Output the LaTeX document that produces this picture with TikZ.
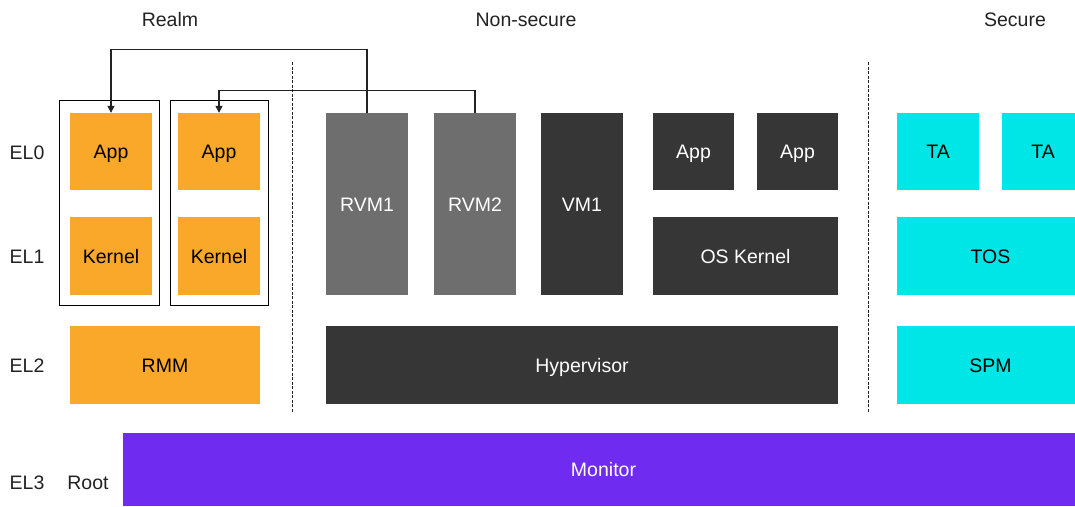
\documentclass[tikz,border=0pt]{standalone}
\usepackage{fontspec}
\setmainfont{Liberation Sans}
\usepackage{xcolor}
\usetikzlibrary{arrows.meta}
\definecolor{realmorange}{HTML}{F9A82A}
\definecolor{rvmgray}{HTML}{6E6E6E}
\definecolor{nsdark}{HTML}{363636}
\definecolor{seccyan}{HTML}{00E5E5}
\definecolor{rootpurple}{HTML}{6F2CF0}
\definecolor{labelgray}{HTML}{222222}
\tikzset{
  layerbox/.style={draw=none, align=center, inner sep=0pt, text height=14pt, text depth=0pt, font=\fontsize{19.5}{22}\selectfont},
  realmbox/.style={layerbox, fill=realmorange, text=black, minimum width=82pt},
  rvmbox/.style={layerbox, fill=rvmgray, text=white, minimum width=82pt, minimum height=182pt},
  nsbox/.style={layerbox, fill=nsdark, text=white},
  secbox/.style={layerbox, fill=seccyan, text=black},
  rootbox/.style={layerbox, fill=rootpurple, text=white},
  realmframe/.style={draw=black, line width=1pt, inner sep=0pt},
  worldsep/.style={draw=labelgray, dashed, dash pattern=on 3pt off 1.5pt, line width=1pt},
  callarrow/.style={-{Triangle[length=7pt,width=7pt]}, draw=labelgray, line width=1.2pt},
  ellabel/.style={text=labelgray, inner sep=0pt, text height=14pt, text depth=0pt, font=\fontsize{19.5}{22}\selectfont}
}
\begin{document}
\begin{tikzpicture}[x=1pt, y=-1pt]
\useasboundingbox (0,0) rectangle (1075,506);
% world titles
\node[ellabel] (realm) at (170,19) {Realm};
\node[ellabel] (nonsecure) at (526,19) {Non-secure};
\node[ellabel] (secure) at (1015,19) {Secure};
% exception levels
\node[ellabel] (el0) at (27,152) {EL0};
\node[ellabel] (el1) at (27,256) {EL1};
\node[ellabel] (el2) at (27,365) {EL2};
\node[ellabel] (el3) at (27,482) {EL3};
\node[ellabel] (root) at (88,482) {Root};
% separators
\coordinate (septop1) at (292,62);
\coordinate (sepbot1) at (292,412);
\coordinate (septop2) at (868,62);
\coordinate (sepbot2) at (868,412);
\draw[worldsep] (septop1) -- (sepbot1);
\draw[worldsep] (septop2) -- (sepbot2);
% realm
\node[realmframe, minimum width=100pt, minimum height=205pt] (realmvm1) at (109,202.5) {};
\node[realmframe, minimum width=98pt, minimum height=205pt] (realmvm2) at (219,202.5) {};
\node[realmbox, minimum height=77pt] (rapp1) at (111,151.5) {App};
\node[realmbox, minimum height=77pt] (rapp2) at (219,151.5) {App};
\node[realmbox, minimum height=78pt] (rkern1) at (111,256) {Kernel};
\node[realmbox, minimum height=78pt] (rkern2) at (219,256) {Kernel};
\node[realmbox, minimum width=190pt, minimum height=78pt] (rmm) at (165,365) {RMM};
% non-secure
\node[rvmbox] (rvm1) at (367,204) {RVM1};
\node[rvmbox] (rvm2) at (475,204) {RVM2};
\node[nsbox, minimum width=82pt, minimum height=182pt] (vm1) at (582,204) {VM1};
\node[nsbox, minimum width=81pt, minimum height=77pt] (nsapp1) at (693.5,151.5) {App};
\node[nsbox, minimum width=81pt, minimum height=77pt] (nsapp2) at (797.5,151.5) {App};
\node[nsbox, minimum width=185pt, minimum height=78pt] (oskernel) at (745.5,256) {OS Kernel};
\node[nsbox, minimum width=512pt, minimum height=78pt] (hyp) at (582,365) {Hypervisor};
% secure
\node[secbox, minimum width=82pt, minimum height=77pt] (ta1) at (938,151.5) {TA};
\node[secbox, minimum width=82pt, minimum height=77pt] (ta2) at (1043,151.5) {TA};
\node[secbox, minimum width=187pt, minimum height=78pt] (tos) at (990.5,256) {TOS};
\node[secbox, minimum width=187pt, minimum height=78pt] (spm) at (990.5,365) {SPM};
% root
\node[rootbox, minimum width=961pt, minimum height=73pt] (monitor) at (603.5,469.5) {Monitor};
% realm vm links
\draw[callarrow] (rvm1.north) -- ++(0,-63) -| (rapp1.north);
\draw[callarrow] (rvm2.north) -- ++(0,-22) -| (rapp2.north);
\end{tikzpicture}
\end{document}
